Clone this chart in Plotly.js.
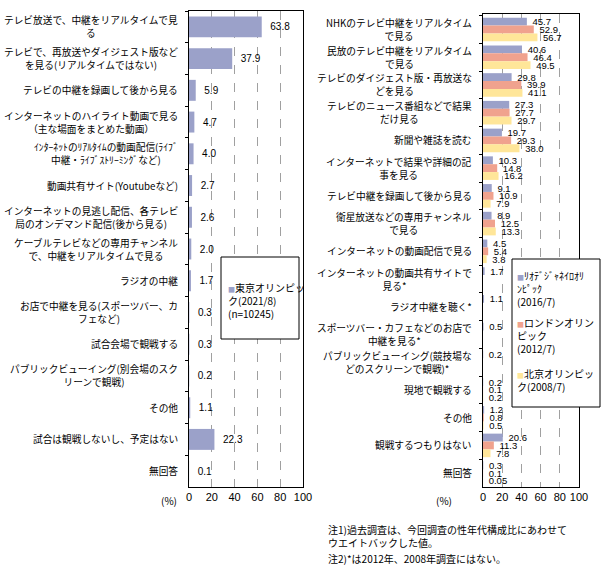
<!DOCTYPE html>
<html>
<head>
<meta charset="utf-8">
<script src="https://cdn.plot.ly/plotly-3.0.1.min.js"></script>
<style>html,body{margin:0;padding:0;background:#fff;}#chart{width:605px;height:571px;}</style>
</head>
<body>
<div id="chart"></div>
<script>
// ---- data ----
const leftCategories = [
  "テレビ放送で、中継をリアルタイムで見<br>る",
  "テレビで、再放送やダイジェスト版など<br>を見る(リアルタイムではない)",
  "テレビの中継を録画して後から見る",
  "インターネットのハイライト動画で見る<br>（主な場面をまとめた動画）",
  "ｲﾝﾀｰﾈｯﾄのﾘｱﾙﾀｲﾑの動画配信(ﾗｲﾌﾞ<br>中継・ﾗｲﾌﾞｽﾄﾘｰﾐﾝｸﾞなど)",
  "動画共有サイト(Youtubeなど)",
  "インターネットの見逃し配信、各テレビ<br>局のオンデマンド配信(後から見る)",
  "ケーブルテレビなどの専用チャンネル<br>で、中継をリアルタイムで見る",
  "ラジオの中継",
  "お店で中継を見る(スポーツバー、カ<br>フェなど)",
  "試合会場で観戦する",
  "パブリックビューイング(別会場のスク<br>リーンで観戦)",
  "その他",
  "試合は観戦しないし、予定はない",
  "無回答"
];
const tokyo2021 = [63.8, 37.9, 5.9, 4.7, 4.0, 2.7, 2.6, 2.0, 1.7, 0.3, 0.3, 0.2, 1.1, 22.3, 0.1];

const rightCategories = [
  "NHKのテレビ中継をリアルタイム<br>で見る",
  "民放のテレビ中継をリアルタイム<br>で見る",
  "テレビのダイジェスト版・再放送な<br>どを見る",
  "テレビのニュース番組などで結果<br>だけ見る",
  "新聞や雑誌を読む",
  "インターネットで結果や詳細の記<br>事を見る",
  "テレビ中継を録画して後から見る",
  "衛星放送などの専用チャンネル<br>で見る",
  "インターネットの動画配信で見る",
  "インターネットの動画共有サイトで<br>見る*",
  "ラジオ中継を聴く*",
  "スポーツバー・カフェなどのお店で<br>中継を見る*",
  "パブリックビューイング(競技場な<br>どのスクリーンで観戦)*",
  "現地で観戦する",
  "その他",
  "観戦するつもりはない",
  "無回答"
];
const rio2016     = [45.7, 40.6, 29.8, 27.3, 19.7, 10.3, 9.1, 8.9, 4.5, 1.7, 1.1, 0.5, 0.2, 0.2, 1.2, 20.6, 0.3];
const london2012  = [52.9, 46.4, 39.9, 27.7, 29.3, 14.8, 10.9, 12.5, 5.4, null, null, null, null, 0.1, 0.8, 11.3, 0.1];
const beijing2008 = [56.7, 49.5, 41.1, 29.7, 38.0, 16.2, 7.9, 13.3, 3.8, null, null, null, null, 0.2, 0.5, 7.8, 0.05];

const seriesNames = ["東京オリンピッ<br>ク(2021/8)<br>(n=10245)",
                     "ﾘｵﾃﾞｼﾞｬﾈｲﾛｵﾘ<br>ﾝﾋﾟｯｸ<br>(2016/7)",
                     "ロンドンオリン<br>ピック<br>(2012/7)",
                     "北京オリンピッ<br>ク(2008/7)"];
const xTickVals = [0, 20, 40, 60, 80, 100];
const noteLines = ["注1)過去調査は、今回調査の性年代構成比にあわせて<br>ウエイトバックした値。",
                   "注2)*は2012年、2008年調査にはない。"];

// ---- styles ----
const W = 605, H = 571;
const JP = "Noto Sans CJK JP, sans-serif";
const NUM = "Liberation Sans Narrow, Liberation Sans, Arial, sans-serif";
const cBlue = "#9ba1c9", cRed = "#f0a28e", cYel = "#ffe699";
const px = v => v / W;
const py = v => 1 - v / H;
const fmtWith = pad => v => (v === null ? "" : pad + (v < 0.1 ? v.toFixed(2) : v.toFixed(1)));

function barTrace(vals, cats, color, xa, ya, width, pad, fs) {
  const t = {
    type: "bar", orientation: "h", x: vals, y: cats,
    xaxis: xa, yaxis: ya, marker: {color: color, line: {width: 0}},
    text: vals.map(fmtWith(pad)), textposition: "outside", constraintext: "none",
    cliponaxis: false, textfont: {family: NUM, size: fs, color: "#000"},
    hoverinfo: "x+y", showlegend: false
  };
  if (width) t.width = width;
  return t;
}

const data = [
  barTrace(tokyo2021, leftCategories, cBlue, "x", "y", 0.66, "\u00a0\u00a0", 10),
  barTrace(rio2016, rightCategories, cBlue, "x2", "y2", null, "\u00a0", 9.5),
  barTrace(london2012, rightCategories, cRed, "x2", "y2", null, "\u00a0", 9.5),
  barTrace(beijing2008, rightCategories, cYel, "x2", "y2", null, "\u00a0", 9.5)
];

const xCommon = {
  range: [0, 100], tickvals: xTickVals, ticks: "", showgrid: true,
  gridcolor: "#a0a0a0", griddash: "dash", gridwidth: 1, zeroline: false,
  showline: true, linecolor: "#000", linewidth: 1, mirror: true,
  tickfont: {family: NUM, size: 11, color: "#000"}, fixedrange: true
};
const yCommon = {
  type: "category", autorange: "reversed", showticklabels: false,
  ticks: "outside", tickson: "boundaries", ticklen: 3, tickcolor: "#000",
  showgrid: false, zeroline: false, showline: true, linecolor: "#000",
  linewidth: 1, mirror: true, fixedrange: true
};

const annotations = [];
leftCategories.forEach(c => annotations.push({
  xref: "x", yref: "y", x: 0, y: c, text: c, showarrow: false,
  xanchor: "right", yanchor: "middle", xshift: -9, align: "center",
  font: {family: JP, size: 9.7, color: "#000"}
}));
rightCategories.forEach(c => annotations.push({
  xref: "x2", yref: "y2", x: 0, y: c, text: c, showarrow: false,
  xanchor: "right", yanchor: "middle", xshift: -9, align: "center",
  font: {family: JP, size: 9.7, color: "#000"}
}));
const mk = col => "<span style='color:" + col + ";font-size:7px'>■</span>";
const legendItems = [
  {x: 226, y: 300, text: mk(cBlue) + seriesNames[0]},
  {x: 515, y: 288, text: mk(cBlue) + seriesNames[1]},
  {x: 515, y: 335, text: mk(cRed) + seriesNames[2]},
  {x: 515, y: 380, text: mk(cYel) + seriesNames[3]}
];
legendItems.forEach(it => annotations.push({
  xref: "paper", yref: "paper", x: px(it.x), y: py(it.y), text: it.text,
  showarrow: false, xanchor: "left", yanchor: "middle", align: "left",
  font: {family: JP, size: 10, color: "#000"}
}));
[[169, 500], [444, 500]].forEach(p => annotations.push({
  xref: "paper", yref: "paper", x: px(p[0]), y: py(p[1]), text: "(%)",
  showarrow: false, xanchor: "center", yanchor: "middle",
  font: {family: JP, size: 10, color: "#000"}
}));
annotations.push({
  xref: "paper", yref: "paper", x: px(326), y: py(536), text: noteLines[0],
  showarrow: false, xanchor: "left", yanchor: "middle", align: "left",
  font: {family: JP, size: 10, color: "#000"}
});
annotations.push({
  xref: "paper", yref: "paper", x: px(326), y: py(558), text: noteLines[1],
  showarrow: false, xanchor: "left", yanchor: "middle", align: "left",
  font: {family: JP, size: 10, color: "#000"}
});

const layout = {
  width: W, height: H, margin: {l: 0, r: 0, t: 0, b: 0},
  paper_bgcolor: "#fff", plot_bgcolor: "#fff",
  barmode: "group", bargap: 0.15, bargroupgap: 0, showlegend: false,
  xaxis: Object.assign({}, xCommon, {domain: [px(189), px(303)], anchor: "y"}),
  yaxis: Object.assign({}, yCommon, {domain: [py(487), py(11)], anchor: "x"}),
  xaxis2: Object.assign({}, xCommon, {domain: [px(483), px(579)], anchor: "y2"}),
  yaxis2: Object.assign({}, yCommon, {domain: [py(487), py(14)], anchor: "x2"}),
  shapes: [
    {type: "rect", xref: "paper", yref: "paper", x0: px(221), x1: px(299), y0: py(339), y1: py(257),
     line: {color: "#000", width: 1}, fillcolor: "#fff", layer: "above"},
    {type: "rect", xref: "paper", yref: "paper", x0: px(512), x1: px(600), y0: py(407), y1: py(259),
     line: {color: "#000", width: 1}, fillcolor: "#fff", layer: "above"}
  ],
  annotations: annotations,
  font: {family: JP, size: 10, color: "#000"}
};

Plotly.newPlot("chart", data, layout, {displayModeBar: false, staticPlot: true});
</script>
</body>
</html>
